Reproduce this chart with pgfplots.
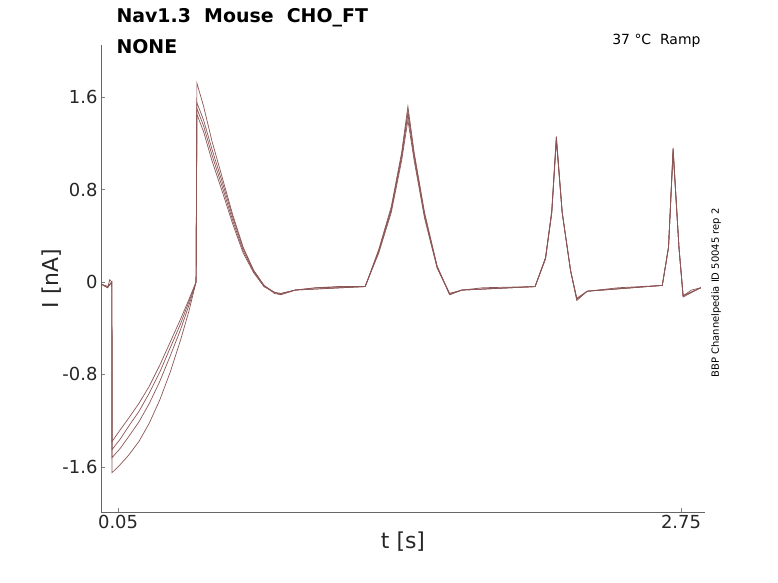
\documentclass[border=0pt]{standalone}
\usepackage{pgfplots}
\pgfplotsset{compat=1.18}
\usepackage{fontspec}
\setmainfont{DejaVu Sans}
\definecolor{tr}{RGB}{140,85,85}
\begin{document}
\begin{tikzpicture}[x=1bp,y=1bp]
\path (0,0) rectangle (778,583);
\begin{axis}[at={(101bp,71bp)},anchor=south west,scale only axis,width=604bp,height=467bp,
xmin=-0.032,xmax=2.865,ymin=-1.99,ymax=2.05,
axis x line*=bottom,axis y line*=left,
xtick={0.05,2.75},xticklabels={0.05,2.75},ytick={-1.6,-0.8,0,0.8,1.6},
yticklabels={-1.6,-0.8,0,0.8,1.6},
tick align=inside,major tick length=4bp,
tick label style={font=\fontsize{18}{21}\selectfont,text=black!85},
xlabel={t [s]},ylabel={I [nA]},
label style={font=\fontsize{22}{25}\selectfont,text=black!85},
xlabel style={yshift=4bp},ylabel style={yshift=-6bp},
axis line style={black!60}]
\addplot[tr,line width=0.7pt] coordinates {(-0.03,-0.02)(0.0,-0.05)(0.01,0.02)(0.02,0.0)(0.021,-1.38)(0.06,-1.28)(0.1,-1.18)(0.15,-1.05)(0.2,-0.9)(0.25,-0.72)(0.3,-0.52)(0.35,-0.32)(0.39,-0.15)(0.424,0)(0.428,1.45)(0.46,1.3)(0.5,1.05)(0.55,0.78)(0.6,0.5)(0.65,0.25)(0.7,0.08)(0.75,-0.04)(0.8,-0.09)(0.83,-0.1)(0.9,-0.07)(1.0,-0.05)(1.1,-0.04)(1.235,-0.04)(1.3,0.25)(1.36,0.6)(1.41,1.05)(1.44,1.4)(1.47,1.05)(1.52,0.55)(1.58,0.12)(1.64,-0.1)(1.7,-0.07)(1.8,-0.05)(2.05,-0.04)(2.1,0.2)(2.13,0.6)(2.152,1.22)(2.18,0.6)(2.22,0.1)(2.25,-0.14)(2.3,-0.08)(2.45,-0.05)(2.66,-0.03)(2.69,0.3)(2.712,1.12)(2.74,0.3)(2.76,-0.12)(2.8,-0.07)(2.845,-0.05)};
\addplot[tr,line width=0.7pt] coordinates {(-0.03,-0.02)(0.0,-0.04)(0.02,0.0)(0.021,-1.45)(0.06,-1.36)(0.1,-1.25)(0.15,-1.12)(0.2,-0.96)(0.25,-0.78)(0.3,-0.57)(0.35,-0.36)(0.39,-0.17)(0.424,0)(0.428,1.5)(0.46,1.35)(0.5,1.1)(0.55,0.82)(0.6,0.53)(0.65,0.27)(0.7,0.09)(0.75,-0.04)(0.8,-0.09)(0.83,-0.1)(0.9,-0.07)(1.0,-0.05)(1.235,-0.04)(1.3,0.26)(1.36,0.62)(1.41,1.08)(1.44,1.45)(1.47,1.08)(1.52,0.57)(1.58,0.13)(1.64,-0.1)(1.7,-0.07)(2.05,-0.04)(2.1,0.2)(2.13,0.6)(2.152,1.24)(2.18,0.6)(2.22,0.1)(2.25,-0.15)(2.3,-0.08)(2.66,-0.03)(2.69,0.3)(2.712,1.14)(2.74,0.3)(2.76,-0.12)(2.845,-0.05)};
\addplot[tr,line width=0.7pt] coordinates {(-0.03,-0.02)(0.0,-0.05)(0.02,0.0)(0.021,-1.52)(0.06,-1.44)(0.1,-1.34)(0.15,-1.21)(0.2,-1.05)(0.25,-0.86)(0.3,-0.64)(0.35,-0.41)(0.39,-0.2)(0.424,0)(0.428,1.55)(0.46,1.4)(0.5,1.15)(0.55,0.86)(0.6,0.56)(0.65,0.29)(0.7,0.1)(0.75,-0.03)(0.8,-0.09)(0.83,-0.11)(0.9,-0.07)(1.235,-0.04)(1.3,0.27)(1.36,0.63)(1.41,1.1)(1.44,1.48)(1.47,1.1)(1.52,0.58)(1.58,0.13)(1.64,-0.11)(1.7,-0.07)(2.05,-0.04)(2.1,0.21)(2.13,0.6)(2.152,1.25)(2.18,0.6)(2.22,0.1)(2.25,-0.15)(2.3,-0.08)(2.66,-0.03)(2.69,0.3)(2.712,1.15)(2.74,0.3)(2.76,-0.12)(2.845,-0.05)};
\addplot[tr,line width=0.7pt] coordinates {(-0.03,-0.02)(0.0,-0.04)(0.02,0.0)(0.021,-1.65)(0.06,-1.58)(0.1,-1.5)(0.15,-1.38)(0.2,-1.22)(0.25,-1.02)(0.3,-0.78)(0.35,-0.5)(0.39,-0.25)(0.424,0)(0.428,1.72)(0.46,1.52)(0.5,1.22)(0.55,0.9)(0.6,0.58)(0.65,0.3)(0.7,0.1)(0.75,-0.03)(0.8,-0.1)(0.83,-0.11)(0.9,-0.07)(1.235,-0.04)(1.3,0.28)(1.36,0.65)(1.41,1.12)(1.44,1.52)(1.47,1.12)(1.52,0.6)(1.58,0.14)(1.64,-0.11)(1.7,-0.07)(2.05,-0.04)(2.1,0.21)(2.13,0.62)(2.152,1.26)(2.18,0.6)(2.22,0.1)(2.25,-0.16)(2.3,-0.08)(2.66,-0.03)(2.69,0.3)(2.712,1.16)(2.74,0.3)(2.76,-0.13)(2.845,-0.05)};
\end{axis}
\node[anchor=west,font=\fontsize{19}{22}\selectfont\bfseries] at (113,565) {Nav1.3\ \ Mouse\ \ CHO\_FT};
\node[anchor=west,font=\fontsize{19}{22}\selectfont\bfseries] at (113,536) {NONE};
\node[anchor=east,font=\fontsize{14}{16}\selectfont] at (704,542) {37 °C\ \ Ramp};
\node[rotate=90,font=\fontsize{10}{12}\selectfont] at (716,290) {BBP Channelpedia ID 50045 rep 2};
\end{tikzpicture}
\end{document}
